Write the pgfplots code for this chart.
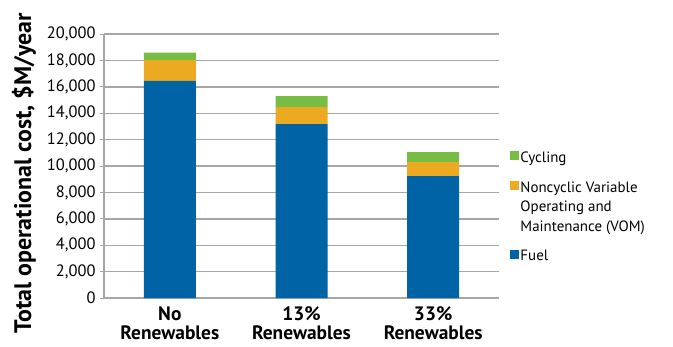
\documentclass[border=0pt]{standalone}
\usepackage{pgfplots}
\pgfplotsset{compat=1.18}
\usepackage{fontspec}
\setmainfont{PT Sans}
\definecolor{cfuel}{HTML}{0063A6}
\definecolor{cvom}{HTML}{EBAA22}
\definecolor{ccyc}{HTML}{78BD43}
\definecolor{cgrid}{HTML}{A6A6A6}
\begin{document}
\begin{tikzpicture}[x=1bp,y=1bp]
\begin{axis}[
  scale only axis,
  width=395bp, height=264bp,
  ybar stacked,
  bar width=0.395,
  xmin=-0.5, xmax=2.5,
  ymin=0, ymax=20000,
  ytick={0,2000,...,20000},
  xtick={0,1,2},
  xticklabels={{No\\Renewables},{13\%\\Renewables},{33\%\\Renewables}},
  xticklabel style={font=\fontsize{19.5}{19}\selectfont\bfseries, align=center, yshift=-3.5bp, inner sep=1bp},
  major x tick style={draw=none},
  extra x ticks={-0.5,0.5,1.5,2.5},
  extra x tick labels={},
  extra x tick style={major tick length=5bp, tick style={draw=cgrid, thick}, tick align=outside, grid=none},
  yticklabel style={font=\fontsize{16.5}{17}\selectfont, xshift=-1bp},
  /pgf/number format/assume math mode=true,
  /pgf/number format/1000 sep={,},
  scaled y ticks=false,
  ymajorgrids,
  grid style={draw=cgrid, line width=1.4pt},
  axis x line*=bottom,
  axis y line*=left,
  axis line style={draw=cgrid, line width=1.4pt},
  y axis line style={-}, x axis line style={-},
  tick align=outside,
  major tick length=4bp,
  ytick style={draw=cgrid, thick},
  ylabel={Total operational cost, \$M/year},
  ylabel style={font=\fontsize{24}{25}\selectfont\bfseries, at={(-0.163,0.473)}, anchor=south},
  legend style={draw=none, fill=none, at={(1.02,0.345)}, anchor=west,
    font=\fontsize{15}{19.5}\selectfont, cells={anchor=west, align=left},
    row sep=14bp},
  clip=false,
]
\addplot[fill=cfuel, draw=none, forget plot] coordinates {(0,16450) (1,13180) (2,9240)};
\addplot[fill=cvom, draw=none, forget plot] coordinates {(0,1580) (1,1290) (2,1060)};
\addplot[fill=ccyc, draw=none, forget plot] coordinates {(0,550) (1,830) (2,760)};
\addlegendimage{legend image code/.code={\fill[ccyc] (4bp,-2bp) rectangle (12bp,6bp);}}
\addlegendentry{Cycling}
\addlegendimage{legend image code/.code={\fill[cvom] (4bp,17.5bp) rectangle (12bp,25.5bp);}}
\addlegendentry{Noncyclic Variable\\Operating and\\Maintenance (VOM)}
\addlegendimage{legend image code/.code={\fill[cfuel] (4bp,-2bp) rectangle (12bp,6bp);}}
\addlegendentry{Fuel}
\pgfresetboundingbox
\path[use as bounding box] (rel axis cs:-0.2633,-0.1856) rectangle (rel axis cs:1.4405,1.1288);
\end{axis}
\end{tikzpicture}
\end{document}
